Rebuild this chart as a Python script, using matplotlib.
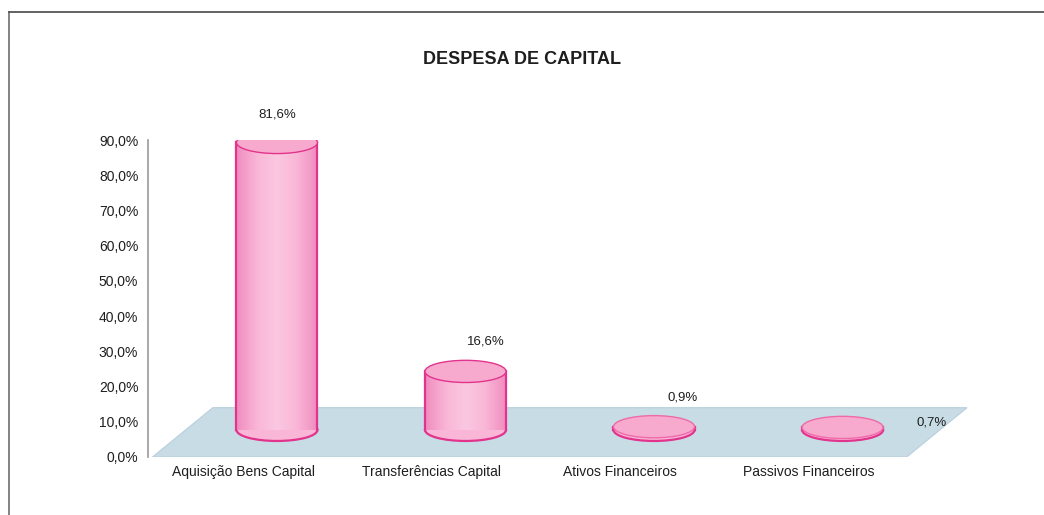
import numpy as np
import matplotlib
matplotlib.use("Agg")
import matplotlib.pyplot as plt
from matplotlib.patches import Ellipse, Rectangle, Polygon
from matplotlib.lines import Line2D
from matplotlib.colors import LinearSegmentedColormap

plt.rcParams['font.family'] = ['Liberation Sans', 'DejaVu Sans']

# data
categories = ["Aquisição Bens Capital", "Transferências Capital",
              "Ativos Financeiros", "Passivos Financeiros"]
values = [81.6, 16.6, 0.9, 0.7]
value_labels = ["81,6%", "16,6%", "0,9%", "0,7%"]
yticks = [0, 10, 20, 30, 40, 50, 60, 70, 80, 90]
ytick_labels = ["0,0%", "10,0%", "20,0%", "30,0%", "40,0%",
                "50,0%", "60,0%", "70,0%", "80,0%", "90,0%"]

# style
top_col = '#f7aacd'
edge_col = '#e2348c'
floor_col = '#c8dce6'
text_col = '#1e1e1e'
base = 7.7        # cylinders stand in the middle of the floor
cyl_w = 0.43      # cylinder width (category units)
ell_h = 6.3       # ellipse height (value units)
depth_dx, depth_dy = 0.32, 14.0
label_dx = [0.0, 0.11, 0.15, 0.47]
label_dy = [8.0, 8.4, 8.2, 1.3]
shade = LinearSegmentedColormap.from_list(
    'cyl', ['#f08cbf', '#f9b6d6', '#fbc8e0', '#f9b6d6', '#f08cbf'])

fig = plt.figure(figsize=(10.44, 5.15), dpi=100)
ax = fig.add_axes([148 / 1044, 58 / 515, 852 / 1044, 317 / 515])

xs = np.arange(len(categories))

# floor
fx0, fx1 = -0.66, 3.34
floor = Polygon([(fx0, 0), (fx1, 0), (fx1 + depth_dx, depth_dy), (fx0 + depth_dx, depth_dy)],
                closed=True, facecolor=floor_col, edgecolor='#b8cfdb', lw=0.8, zorder=1)
ax.add_patch(floor)

grad = np.linspace(0, 1, 64).reshape(1, -1)

# cylinders
for x, v in zip(xs, values):
    top = base + v
    ax.add_patch(Ellipse((x, base), cyl_w, ell_h, facecolor='#f9b6d6',
                         edgecolor=edge_col, lw=1.6, zorder=3))
    if v > 2:
        ax.imshow(grad, cmap=shade, aspect='auto', zorder=4, interpolation='bilinear',
                  extent=[x - cyl_w / 2, x + cyl_w / 2, base, top])
    else:
        ax.add_patch(Rectangle((x - cyl_w / 2, base), cyl_w, v, facecolor='#f9b6d6',
                               edgecolor='none', zorder=4))
    ax.plot([x - cyl_w / 2, x - cyl_w / 2], [base, top], color=edge_col, lw=1.6, zorder=5)
    ax.plot([x + cyl_w / 2, x + cyl_w / 2], [base, top], color=edge_col, lw=1.6, zorder=5)
    ax.add_patch(Ellipse((x, top), cyl_w, ell_h, facecolor=top_col,
                         edgecolor=edge_col if v > 2 else '#ee6aa9', lw=1.0, zorder=6))

# value labels
for x, v, lab, dx, dy in zip(xs, values, value_labels, label_dx, label_dy):
    ax.text(x + dx, base + v + dy, lab, ha='center', va='center',
            fontsize=9.5, color=text_col, zorder=7)

ax.set_xlim(-0.684, 3.835)
ax.set_ylim(0, 90)
ax.set_yticks(yticks, ytick_labels)
ax.set_xticks(xs - 0.18, categories)
ax.tick_params(axis='y', length=0, pad=7, labelsize=10, labelcolor=text_col)
ax.tick_params(axis='x', length=0, pad=6, labelsize=10, labelcolor=text_col)
for s in ['top', 'right', 'bottom']:
    ax.spines[s].set_visible(False)
ax.spines['left'].set_color('#9a9a9a')
ax.spines['left'].set_linewidth(1.2)
ax.set_facecolor('none')

# title
fig.text(522 / 1044, 1 - 60 / 515, "DESPESA DE CAPITAL", ha='center', va='center',
         fontsize=13, fontweight='bold', color=text_col)

# chart frame (left and top edges visible)
fig.add_artist(Line2D([9 / 1044, 9 / 1044], [0, 1 - 12 / 515], color='#7a7a7a', lw=1.3))
fig.add_artist(Line2D([9 / 1044, 1], [1 - 12 / 515, 1 - 12 / 515], color='#555555', lw=1.3))

fig.savefig("out.png", dpi=100)
